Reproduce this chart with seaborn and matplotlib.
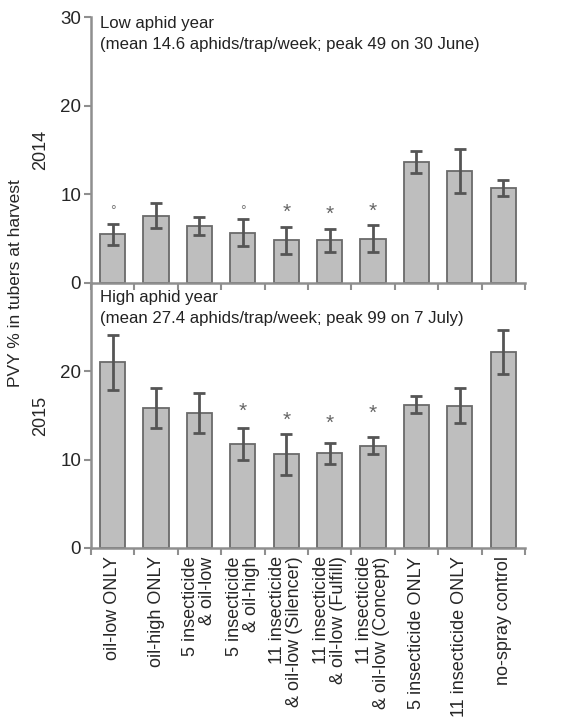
import matplotlib
matplotlib.use("Agg")
import matplotlib.pyplot as plt
import seaborn as sns
import numpy as np
import pandas as pd

treatments = ["oil-low ONLY", "oil-high ONLY", "5 insecticide\n& oil-low",
              "5 insecticide\n& oil-high", "11 insecticide\n& oil-low (Silencer)",
              "11 insecticide\n& oil-low (Fulfill)", "11 insecticide\n& oil-low (Concept)",
              "5 insecticide ONLY", "11 insecticide ONLY", "no-spray control"]

pvy_2014 = [5.5, 7.6, 6.4, 5.7, 4.8, 4.8, 5.0, 13.65, 12.65, 10.7]
err_2014 = [1.2, 1.4, 1.0, 1.5, 1.5, 1.3, 1.5, 1.25, 2.5, 0.9]
marks_2014 = ["°", "", "", "°", "*", "*", "*", "", "", ""]
mark_y_2014 = [8.1, 0, 0, 8.1, 8.0, 7.8, 8.1, 0, 0, 0]

pvy_2015 = [21.0, 15.85, 15.3, 11.8, 10.6, 10.7, 11.6, 16.2, 16.1, 22.2]
err_2015 = [3.1, 2.3, 2.3, 1.8, 2.3, 1.2, 1.0, 0.95, 2.0, 2.45]
marks_2015 = ["", "", "", "*", "*", "*", "*", "", "", ""]
mark_y_2015 = [0, 0, 0, 15.5, 14.45, 14.15, 15.2, 0, 0, 0]

notes = ["Low aphid year\n(mean 14.6 aphids/trap/week; peak 49 on 30 June)",
         "High aphid year\n(mean 27.4 aphids/trap/week; peak 99 on 7 July)"]
years = ["2014", "2015"]

sns.set_style("ticks")
plt.rcParams['font.family'] = ['Liberation Sans', 'DejaVu Sans']

axis_grey = '#8f8f8f'
bar_fill = '#bebebe'
bar_edge = '#6a6a6a'
err_col = '#555555'

fig = plt.figure(figsize=(5.83, 7.21), dpi=100)
ax1 = fig.add_axes([0.156, 0.6075, 0.7445, 0.3685])
ax2 = fig.add_axes([0.156, 0.2400, 0.7445, 0.3675])

panels = [(ax1, pvy_2014, err_2014, marks_2014, mark_y_2014),
          (ax2, pvy_2015, err_2015, marks_2015, mark_y_2015)]

for i, (ax, vals, errs, marks, mark_y) in enumerate(panels):
    df = pd.DataFrame({'treatment': treatments, 'pvy': vals})
    sns.barplot(data=df, x='treatment', y='pvy', color=bar_fill, saturation=1,
                width=0.58, edgecolor=bar_edge, linewidth=1.3, errorbar=None, ax=ax)
    ax.errorbar(np.arange(len(vals)), vals, yerr=errs, fmt='none', ecolor=err_col,
                elinewidth=2, capsize=4, capthick=2, zorder=5)
    for j, (m, my) in enumerate(zip(marks, mark_y)):
        if m == "*":
            ax.text(j, my, m, ha='center', va='center', fontsize=15, color='#666666')
        elif m:
            ax.text(j, my, m, ha='center', va='center', fontsize=10, color='#777777')

    ax.set_ylim(0, 30)
    ax.set_xlim(-0.5, len(vals) - 0.5)
    ax.set_xticks(np.arange(-0.5, len(vals), 1))
    ax.set_xticklabels([])
    ax.set_xticks(np.arange(len(vals)), minor=True)
    if i == 1:
        ax.set_xticklabels(treatments, minor=True, rotation=90, ha='center',
                           va='top', multialignment='right', fontsize=13,
                           linespacing=1.0)
        ax.set_yticks([0, 10, 20])
    else:
        ax.set_xticklabels([], minor=True)
        ax.set_yticks([0, 10, 20, 30])
    ax.tick_params(axis='x', which='minor', length=0, pad=6)
    ax.tick_params(axis='x', which='major', length=5, width=1.5, color=axis_grey)
    ax.tick_params(axis='y', length=5, width=1.5, color=axis_grey, labelsize=13.5, pad=2)
    for s in ['top', 'right']:
        ax.spines[s].set_visible(False)
    for s in ['left', 'bottom']:
        ax.spines[s].set_color(axis_grey)
        ax.spines[s].set_linewidth(1.8)
    ax.set_xlabel('')
    ax.set_ylabel(years[i], fontsize=13)
    ax.yaxis.set_label_coords(-0.097, 0.5)
    ax.patch.set_alpha(0)
    ax.text(0.021, 1.005 if i == 0 else 0.972, notes[i], transform=ax.transAxes,
            ha='left', va='top', fontsize=12.1, linespacing=1.5, color='#222222')

fig.text(0.026, 1 - 283 / 721, "PVY % in tubers at harvest", rotation=90,
         ha='center', va='center', fontsize=12.5)

fig.savefig("out.png", dpi=100)
